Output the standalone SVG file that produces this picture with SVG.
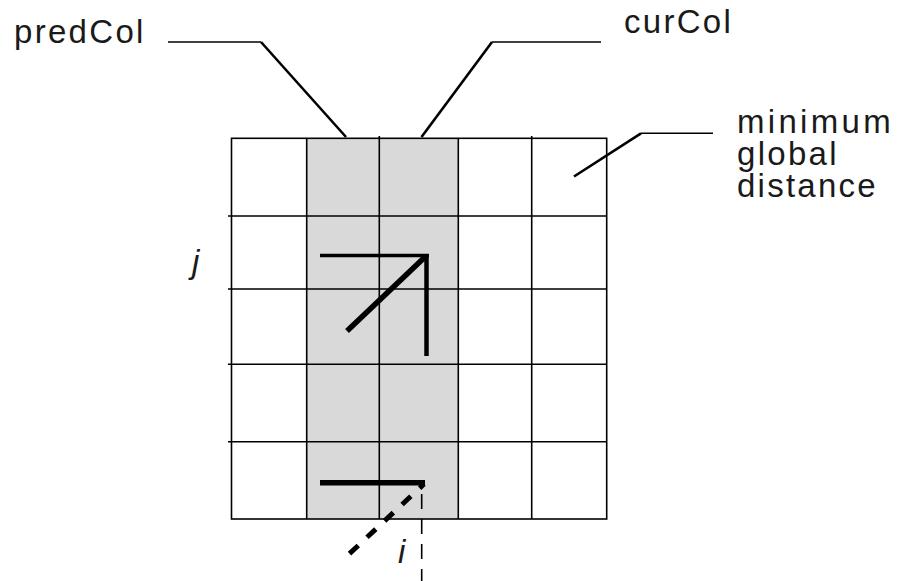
<svg xmlns="http://www.w3.org/2000/svg" width="903" height="581" viewBox="0 0 903 581">
<style>
.lbl{font-family:"Liberation Sans",Arial,sans-serif;font-size:33px;fill:#1a1a1a;letter-spacing:2.3px}
.it{font-family:"Liberation Sans",Arial,sans-serif;font-size:33px;font-style:italic;fill:#1a1a1a}
.grid{stroke:#000;stroke-width:1.6;fill:none}
.lead{stroke:#000;fill:none;stroke-linejoin:miter}
.thick{stroke:#000;fill:none;stroke-linecap:butt}
</style>
<rect width="903" height="581" fill="#fff"/>
<g id="matrix">
<rect x="306.7" y="138.3" width="151.6" height="380.7" fill="#d9d9d9"/>
<rect class="grid" x="231.5" y="138.3" width="375.2" height="380.7"/>
<path class="grid" d="M306.7 138.3V519M379.3 136V519M458.3 138.3V519M531.7 136V519M228 216H606.7M228 289H606.7M228 364.3H606.7M228 441.7H606.7"/>
</g>
<g id="predCol">
<text class="lbl" x="14" y="43">predCol</text>
</g>
<g id="curCol">
<text class="lbl" x="624" y="33">curCol</text>
</g>
<g id="minimum-global-distance">
<text class="lbl" x="737" y="133" textLength="156" lengthAdjust="spacing">minimum</text>
<text class="lbl" x="737" y="165">global</text>
<text class="lbl" x="737" y="197" textLength="141" lengthAdjust="spacing">distance</text>
</g>
<g id="j-label"><text class="it" x="192" y="273">j</text></g>
<g id="i-label"><text class="it" x="398" y="563">i</text></g>
<g id="connectors">
<polyline class="lead" stroke-width="1.6" points="168,42 261,42"/>
<polyline class="lead" stroke-width="2.6" points="261,42 346,137"/>
<polyline class="lead" stroke-width="2.6" points="421.5,137 492,42"/>
<polyline class="lead" stroke-width="1.6" points="492,42 601,42"/>
<polyline class="lead" stroke-width="2.6" points="574,176.5 641,133.3"/>
<polyline class="lead" stroke-width="1.6" points="641,133.3 713,133.3"/>
<line class="thick" stroke-width="3.5" x1="320" y1="255.5" x2="429" y2="255.5"/>
<line class="thick" stroke-width="4.5" x1="426.5" y1="254" x2="426.5" y2="356"/>
<line class="thick" stroke-width="5.5" x1="347" y1="331" x2="426" y2="256"/>
<line class="thick" stroke-width="5.5" x1="320" y1="482.8" x2="425" y2="482.8"/>
<line class="thick" stroke-width="5" stroke-dasharray="12 12" stroke-dashoffset="6" x1="424" y1="484" x2="347" y2="556"/>
<line class="thick" stroke-width="1.6" stroke-dasharray="15 10" x1="421.7" y1="494" x2="421.7" y2="581"/>
</g>
</svg>
